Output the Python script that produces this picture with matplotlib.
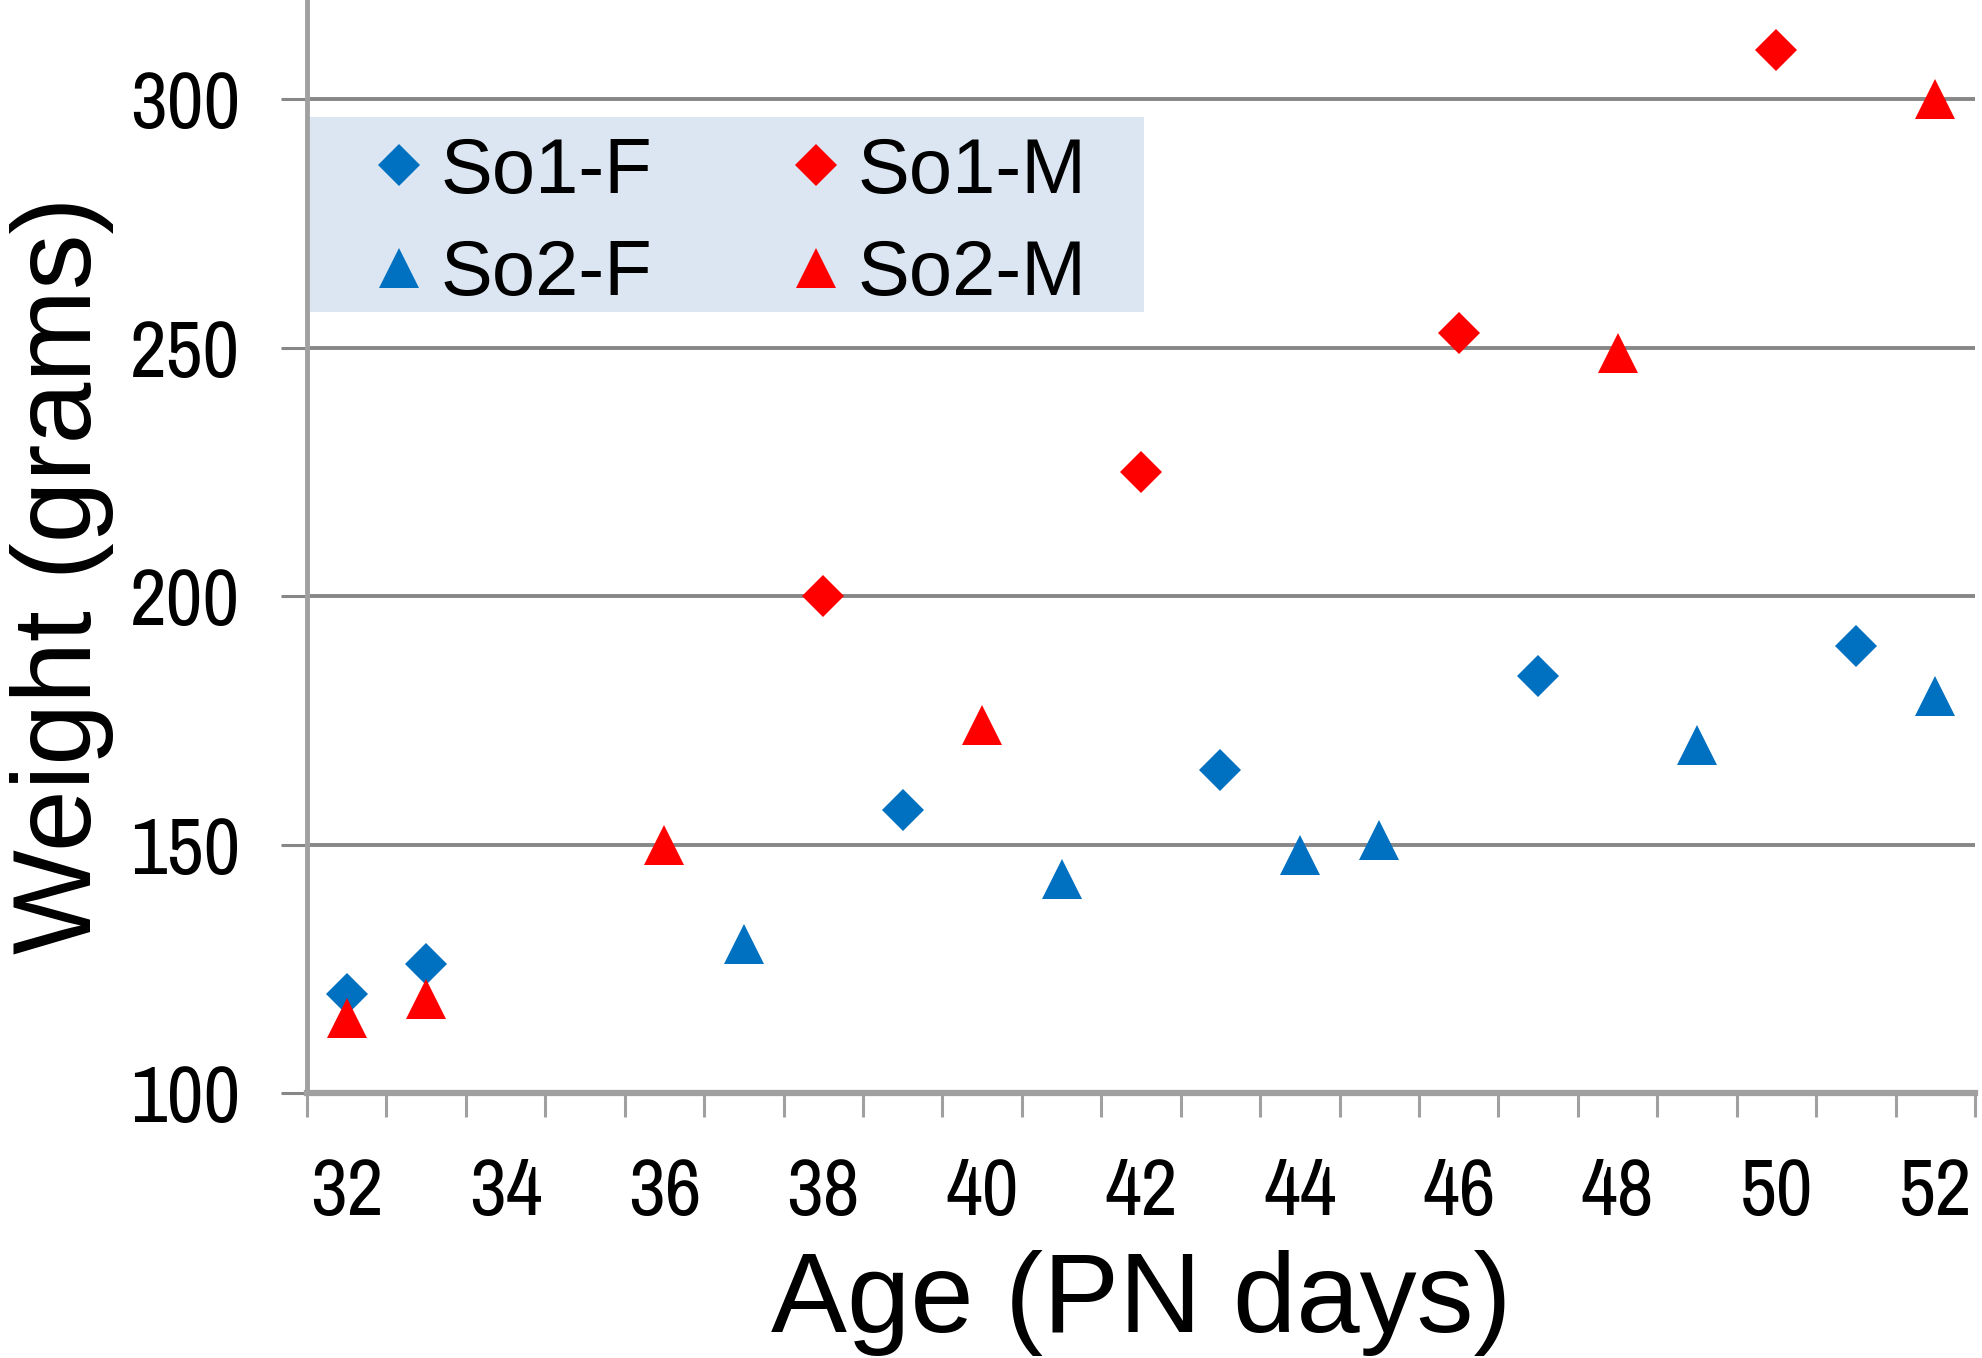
import matplotlib
matplotlib.use('Agg')
import matplotlib.pyplot as plt
from matplotlib.patches import Rectangle

# Age (postnatal days) and body weight (grams) per group
so1_f_age = [32, 33, 39, 43, 47, 51]
so1_f_weight = [120, 126, 157, 165, 184, 190]

so1_m_age = [38, 42, 46, 50]
so1_m_weight = [200, 225, 253, 310]

so2_f_age = [37, 41, 44, 45, 49, 52]
so2_f_weight = [130, 143, 148, 151, 170, 180]

so2_m_age = [32, 33, 36, 40, 48, 52]
so2_m_weight = [115, 119, 150, 174, 249, 300]

x_ticks = list(range(32, 53, 2))
y_ticks = [100, 150, 200, 250, 300]

BLUE = '#0070C0'
RED = '#FF0000'
GRID = '#878787'
SPINE = '#a0a0a0'
# narrow sans for the tick numbers, first installed one wins
TICK_FONT = ['Liberation Sans Narrow', 'Nimbus Sans Narrow', 'Arimo Narrow',
             'Archivo Narrow', 'PT Sans Narrow', 'Roboto Condensed',
             'IBM Plex Sans Condensed', 'Liberation Sans']
TEXT_FONT = ['Liberation Sans', 'DejaVu Sans']

W, H = 1982, 1358
fig = plt.figure(figsize=(W / 100, H / 100), dpi=100)
ax = fig.add_axes([307 / W, 1 - 1093 / H, (1975 - 307) / W, 1093 / H])

# data series (triangles drawn over diamonds)
h1, = ax.plot(so1_f_age, so1_f_weight, 'D', color=BLUE, ms=21, mew=0, label='So1-F', zorder=3)
h2, = ax.plot(so1_m_age, so1_m_weight, 'D', color=RED, ms=21, mew=0, label='So1-M', zorder=3)
h3, = ax.plot(so2_f_age, so2_f_weight, '^', color=BLUE, ms=29, mew=0, label='So2-F', zorder=4)
h4, = ax.plot(so2_m_age, so2_m_weight, '^', color=RED, ms=29, mew=0, label='So2-M', zorder=4)

ax.set_xlim(31.5, 52.5)
ax.set_ylim(100, 320)

# x axis: labels on even days, tick marks between days
ax.set_xticks(x_ticks)
ax.set_xticks([d + 0.5 for d in range(31, 53)], minor=True)
ax.tick_params(axis='x', which='major', length=0, pad=46, labelsize=58)
ax.tick_params(axis='x', which='minor', length=17, width=2.2, color=SPINE, direction='out')

ax.set_yticks(y_ticks)
ax.tick_params(axis='y', length=19, width=2.2, color=GRID, pad=29, labelsize=58)

for lab in ax.get_xticklabels() + ax.get_yticklabels():
    lab.set_family(TICK_FONT)

ax.yaxis.grid(True, color=GRID, lw=2.8)
ax.set_axisbelow(True)

for side in ['top', 'right']:
    ax.spines[side].set_visible(False)
ax.spines['left'].set_color(SPINE)
ax.spines['left'].set_linewidth(3.5)
ax.spines['bottom'].set_color(SPINE)
ax.spines['bottom'].set_linewidth(4.5)

# axis titles
ax.set_xlabel('Age (PN days)', fontsize=82, family=TEXT_FONT)
ax.xaxis.set_label_coords(0.5, -0.2187)
ax.xaxis.label.set_va('baseline')
ax.set_ylabel('Weight (grams)', fontsize=80, family=TEXT_FONT)
ax.yaxis.set_label_coords(-0.1157, 0.474)

# legend with light blue panel behind it
ax.add_patch(Rectangle((0.002, 0.7146), 0.5, 0.1784, transform=ax.transAxes,
                       facecolor='#dce6f2', edgecolor='none', zorder=1))
ax.legend([h1, h3, h2, h4], ['So1-F', 'So2-F', 'So1-M', 'So2-M'], ncol=2,
          loc='upper left', bbox_to_anchor=(0.041, 0.876), frameon=False,
          borderpad=0, borderaxespad=0, handlelength=0.6, handletextpad=0.24,
          columnspacing=1.8, labelspacing=0.38,
          prop={'family': TEXT_FONT, 'size': 56})

fig.savefig('out.png', dpi=100)
